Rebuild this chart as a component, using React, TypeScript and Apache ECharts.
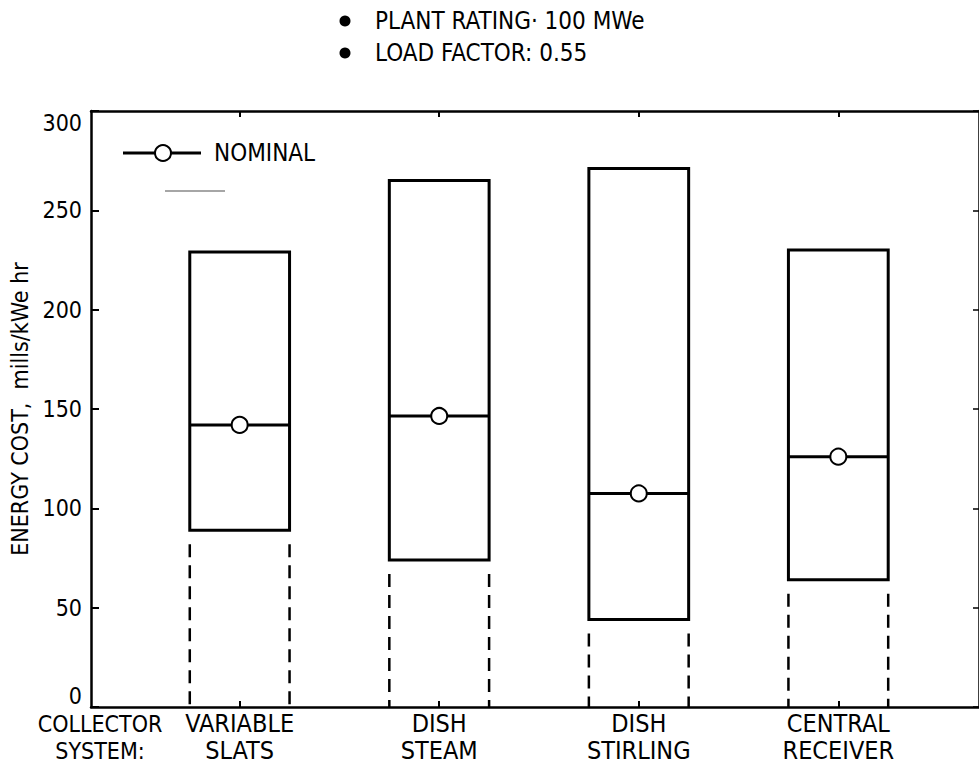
import React, { useEffect, useRef } from "react";
import * as echarts from "echarts";

const FONT = "'Liberation Sans Narrow', 'DejaVu Sans Condensed', 'Noto Sans', sans-serif";

const categories = ["VARIABLE\nSLATS", "DISH\nSTEAM", "DISH\nSTIRLING", "CENTRAL\nRECEIVER"];
const lowValues = [89, 74, 44, 64];
const highValues = [229, 265, 271, 230];
const nominalValues = [142, 146.5, 107.5, 126];
const yMin = 0;
const yMax = 300;
const yInterval = 50;
const titleLines = ["PLANT RATING· 100 MWe", "LOAD FACTOR: 0.55"];
const yAxisTitle = "ENERGY COST,  mills/kWe hr";
const xAxisTitle = "COLLECTOR\nSYSTEM:";
const legendLabel = "NOMINAL";

const catPositions = categories.map((_, i) => i);

export default function App() {
  const ref = useRef<HTMLDivElement>(null);
  useEffect(() => {
    if (!ref.current) return;
    const chart = echarts.init(ref.current, undefined, { renderer: "svg" });
    const halfW = 0.25;
    const data = categories.map((_, i) => [i, lowValues[i], highValues[i], nominalValues[i]]);
    const option: any = {
      animation: false,
      backgroundColor: "#fff",
      textStyle: { fontFamily: FONT },
      grid: { left: 91, top: 111, width: 890, height: 596, containLabel: false },
      xAxis: [
        {
          type: "value",
          position: "bottom",
          min: -0.745,
          max: 3.705,
          axisLine: { show: true, onZero: false, lineStyle: { color: "#000", width: 2.5 } },
          axisTick: { show: true, inside: true, length: 6, customValues: catPositions, lineStyle: { color: "#000", width: 2 } },
          axisLabel: {
            show: true,
            customValues: catPositions,
            formatter: (v: number) => categories[Math.round(v)],
            color: "#000",
            fontSize: 25,
            lineHeight: 27,
            fontFamily: FONT,
            margin: 3,
          },
          splitLine: { show: false },
        },
        {
          type: "value",
          position: "top",
          min: -0.745,
          max: 3.705,
          axisLine: { show: true, onZero: false, lineStyle: { color: "#000", width: 2.5 } },
          axisTick: { show: true, inside: true, length: 6, customValues: catPositions, lineStyle: { color: "#000", width: 2 } },
          axisLabel: { show: false },
          splitLine: { show: false },
        },
      ],
      yAxis: [
        {
          type: "value",
          position: "left",
          min: yMin,
          max: yMax,
          interval: yInterval,
          name: yAxisTitle,
          nameLocation: "middle",
          nameGap: 58,
          nameTextStyle: { color: "#000", fontSize: 23, fontFamily: FONT },
          axisLine: { show: true, onZero: false, lineStyle: { color: "#000", width: 2.5 } },
          axisTick: { show: true, inside: true, length: 8, lineStyle: { color: "#000", width: 2 } },
          axisLabel: {
            color: "#000",
            fontSize: 23,
            fontFamily: FONT,
            margin: 9,
            verticalAlignMaxLabel: "top",
            verticalAlignMinLabel: "bottom",
          },
          splitLine: { show: false },
        },
        {
          type: "value",
          position: "right",
          min: yMin,
          max: yMax,
          interval: yInterval,
          axisLine: { show: true, onZero: false, lineStyle: { color: "#000", width: 2.5 } },
          axisTick: { show: true, inside: true, length: 6, lineStyle: { color: "#000", width: 1.5 } },
          axisLabel: { show: false },
          splitLine: { show: false },
        },
      ],
      series: [
        {
          type: "custom",
          xAxisIndex: 0,
          yAxisIndex: 0,
          clip: false,
          data,
          renderItem: (params: any, api: any) => {
            const idx = api.value(0);
            const low = api.value(1);
            const high = api.value(2);
            const nom = api.value(3);
            const tl = api.coord([idx - halfW, high]);
            const br = api.coord([idx + halfW, low]);
            const base = api.coord([idx, 0]);
            const np = api.coord([idx, nom]);
            const solid = { stroke: "#000", lineWidth: 3, fill: "none" };
            const dashed = { stroke: "#000", lineWidth: 2.5, lineDash: [13, 8] };
            return {
              type: "group",
              children: [
                { type: "rect", shape: { x: tl[0], y: tl[1], width: br[0] - tl[0], height: br[1] - tl[1] }, style: solid },
                { type: "line", shape: { x1: tl[0], y1: np[1], x2: br[0], y2: np[1] }, style: { stroke: "#000", lineWidth: 3 } },
                { type: "line", shape: { x1: tl[0], y1: br[1] + 14, x2: tl[0], y2: base[1] }, style: dashed },
                { type: "line", shape: { x1: br[0], y1: br[1] + 14, x2: br[0], y2: base[1] }, style: dashed },
                { type: "circle", shape: { cx: np[0], cy: np[1], r: 8 }, style: { fill: "#fff", stroke: "#000", lineWidth: 2 } },
              ],
            };
          },
        },
      ],
      graphic: [
        { type: "circle", shape: { cx: 345, cy: 21, r: 5.5 }, style: { fill: "#000" } },
        { type: "circle", shape: { cx: 345, cy: 53, r: 5.5 }, style: { fill: "#000" } },
        { type: "text", x: 375, y: 21, style: { text: titleLines[0], fill: "#000", font: `24px ${FONT}`, verticalAlign: "middle", align: "left" } },
        { type: "text", x: 375, y: 53, style: { text: titleLines[1], fill: "#000", font: `24px ${FONT}`, verticalAlign: "middle", align: "left" } },
        { type: "line", shape: { x1: 123, y1: 153, x2: 201, y2: 153 }, style: { stroke: "#000", lineWidth: 3 } },
        { type: "circle", shape: { cx: 163, cy: 153, r: 8 }, style: { fill: "#fff", stroke: "#000", lineWidth: 2 } },
        { type: "text", x: 214, y: 153, style: { text: legendLabel, fill: "#000", font: `24px ${FONT}`, verticalAlign: "middle", align: "left" } },
        { type: "line", shape: { x1: 165, y1: 191, x2: 225, y2: 191 }, style: { stroke: "#888", lineWidth: 1.5 } },
        { type: "text", x: 100, y: 710, style: { text: xAxisTitle, fill: "#000", font: `23px ${FONT}`, lineHeight: 27, verticalAlign: "top", align: "center" } },
      ],
    };
    chart.setOption(option);
    return () => chart.dispose();
  }, []);
  return <div ref={ref} style={{ position: "absolute", left: 0, top: 0, width: 979, height: 770 }} />;
}
